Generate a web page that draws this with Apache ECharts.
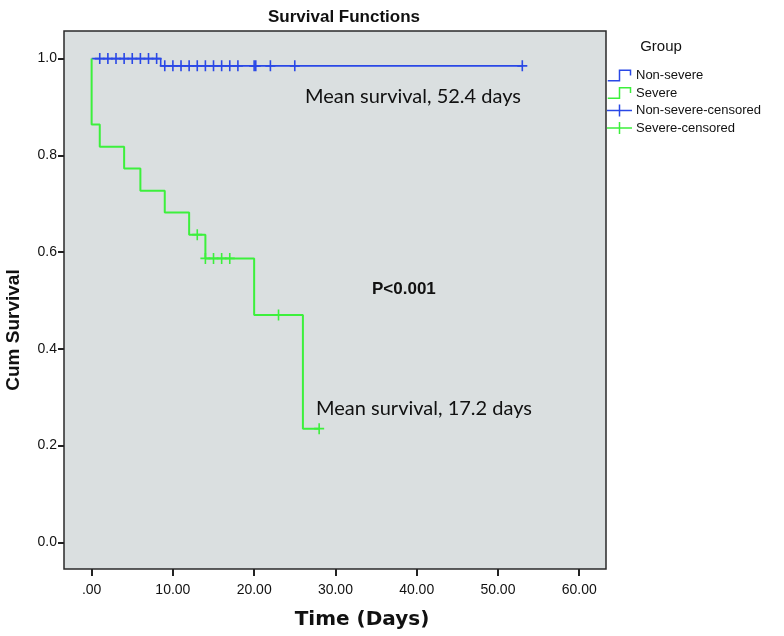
<!DOCTYPE html>
<html>
<head>
<meta charset="utf-8">
<script src="https://cdn.jsdelivr.net/npm/echarts@6/dist/echarts.min.js"></script>
<style>
html,body{margin:0;padding:0;background:#fff;}
#chart{width:784px;height:636px;}
</style>
</head>
<body>
<div id="chart"></div>
<script>
// ---- data ----
const xTicks = [0, 10, 20, 30, 40, 50, 60];
const yTicks = [0, 0.2, 0.4, 0.6, 0.8, 1.0];

const nonSevereTimes = [0, 8.5, 53];
const nonSevereSurv = [1.0, 0.985, 0.985];
const nonSevereCensTimes = [1, 2, 3, 4, 5, 6, 7, 8, 9, 10, 11, 12, 13, 14, 15, 16, 17, 18, 20, 20.2, 22, 25, 53];
const nonSevereCensSurv = [1, 1, 1, 1, 1, 1, 1, 1, 0.985, 0.985, 0.985, 0.985, 0.985, 0.985, 0.985, 0.985, 0.985, 0.985, 0.985, 0.985, 0.985, 0.985, 0.985];

const severeTimes = [0, 0, 1, 4, 6, 9, 12, 14, 20, 26, 28];
const severeSurv = [1.0, 0.864, 0.818, 0.773, 0.727, 0.682, 0.636, 0.587, 0.470, 0.235, 0.235];
const severeCensTimes = [13, 14, 15, 16, 17, 23, 28];
const severeCensSurv = [0.636, 0.587, 0.587, 0.587, 0.587, 0.470, 0.235];

const seriesNames = ['Non-severe', 'Severe', 'Non-severe-censored', 'Severe-censored'];
const annotations = ['Mean survival, 52.4 days', 'P<0.001', 'Mean survival, 17.2 days'];

const BLUE = '#2a48e6';
const GREEN = '#3cf03c';

function pairs(xs, ys) { return xs.map((x, i) => [x, ys[i]]); }

const crossPath = 'path://M0,4.2 H10 V5.8 H0 Z M4.2,0 H5.8 V10 H4.2 Z';
const stepIcon = 'path://M0,10.5 H11 V0 H23.5 V6 H22 V1.5 H12.5 V12 H0 Z';
const crossIcon = 'path://M0,5.25 H25 V6.75 H0 Z M11.75,0 H13.25 V12 H11.75 Z';

const chart = echarts.init(document.getElementById('chart'), null, {renderer: 'canvas'});
chart.setOption({
  animation: false,
  backgroundColor: '#ffffff',
  title: {
    text: 'Survival Functions',
    left: 339, top: 4, textAlign: 'center',
    textStyle: {fontFamily: 'Liberation Sans, Arial, sans-serif', fontWeight: 'bold', fontSize: 17, color: '#111'}
  },
  grid: {
    left: 64, right: 178, top: 31, bottom: 67,
    show: true, backgroundColor: '#dadfe0', borderColor: '#2a2a2a', borderWidth: 1.5
  },
  legend: {
    orient: 'vertical', left: 607, top: 69, padding: 0, itemWidth: 25, itemHeight: 12, itemGap: 4.5,
    textStyle: {fontFamily: 'Liberation Sans, Arial, sans-serif', fontSize: 13, color: '#111', padding: [0, 0, 0, -1]},
    data: [
      {name: seriesNames[0], icon: stepIcon},
      {name: seriesNames[1], icon: stepIcon},
      {name: seriesNames[2], icon: crossIcon},
      {name: seriesNames[3], icon: crossIcon}
    ]
  },
  xAxis: {
    type: 'value', min: -3.4, max: 63.3, position: 'bottom',
    axisLine: {show: false, onZero: false},
    splitLine: {show: false},
    axisTick: {show: true, inside: false, customValues: xTicks, length: 7, lineStyle: {color: '#222', width: 2}},
    axisLabel: {customValues: xTicks, margin: 14, fontFamily: 'Liberation Sans, Arial, sans-serif', fontSize: 14, color: '#111',
      formatter: v => v === 0 ? '.00' : v.toFixed(2)}
  },
  yAxis: {
    type: 'value', min: -0.055, max: 1.057, position: 'left',
    axisLine: {show: false, onZero: false},
    splitLine: {show: false},
    axisTick: {show: true, inside: false, customValues: yTicks, length: 6, lineStyle: {color: '#222', width: 2}},
    axisLabel: {customValues: yTicks, margin: 7, fontFamily: 'Liberation Sans, Arial, sans-serif', fontSize: 14, color: '#111',
      formatter: v => v.toFixed(1)}
  },
  series: [
    {name: seriesNames[0], type: 'line', step: 'end', data: pairs(nonSevereTimes, nonSevereSurv),
      showSymbol: false, color: BLUE, lineStyle: {color: BLUE, width: 1.6}},
    {name: seriesNames[1], type: 'line', step: 'end', data: pairs(severeTimes, severeSurv),
      showSymbol: false, color: GREEN, lineStyle: {color: GREEN, width: 2}},
    {name: seriesNames[2], type: 'scatter', data: pairs(nonSevereCensTimes, nonSevereCensSurv),
      symbol: crossPath, symbolSize: [10, 11], color: BLUE, itemStyle: {color: BLUE, opacity: 1}},
    {name: seriesNames[3], type: 'scatter', data: pairs(severeCensTimes, severeCensSurv),
      symbol: crossPath, symbolSize: [10, 11], color: GREEN, itemStyle: {color: GREEN, opacity: 1}}
  ],
  graphic: [
    {type: 'text', x: 14, y: 330, rotation: Math.PI / 2,
      style: {text: 'Cum Survival', font: 'bold 19px "Liberation Sans", Arial, sans-serif', fill: '#111', textAlign: 'center', textVerticalAlign: 'middle'}},
    {type: 'text', x: 362, y: 620,
      style: {text: 'Time (Days)', font: 'bold 20px "DejaVu Sans", Verdana, sans-serif', fill: '#111', textAlign: 'center', textVerticalAlign: 'middle'}},
    {type: 'text', x: 661, y: 47,
      style: {text: 'Group', font: '15px "Liberation Sans", Arial, sans-serif', fill: '#111', textAlign: 'center', textVerticalAlign: 'middle'}},
    {type: 'text', x: 305, y: 97,
      style: {text: annotations[0], font: '20px Lato, sans-serif', fill: '#111', textAlign: 'left', textVerticalAlign: 'middle'}},
    {type: 'text', x: 372, y: 289,
      style: {text: annotations[1], font: 'bold 17px "Liberation Sans", Arial, sans-serif', fill: '#111', textAlign: 'left', textVerticalAlign: 'middle'}},
    {type: 'text', x: 316, y: 409,
      style: {text: annotations[2], font: '20px Lato, sans-serif', fill: '#111', textAlign: 'left', textVerticalAlign: 'middle'}}
  ]
});
</script>
</body>
</html>
